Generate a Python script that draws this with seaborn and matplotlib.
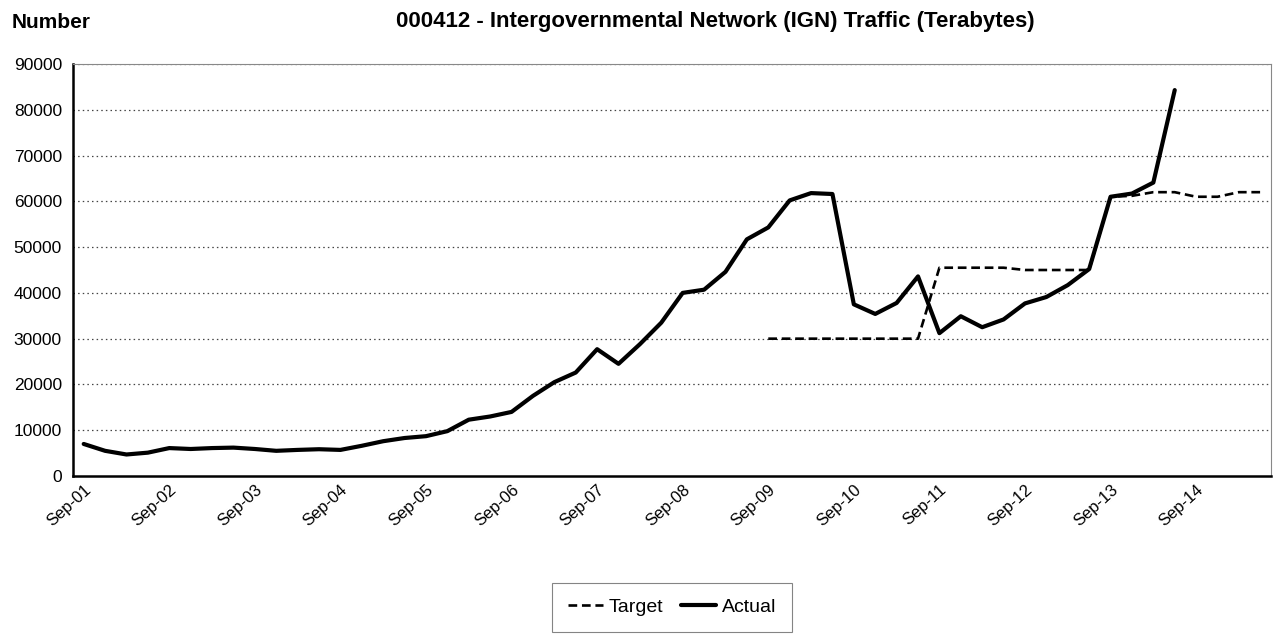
import numpy as np
import pandas as pd
import matplotlib
matplotlib.use("Agg")
import matplotlib.pyplot as plt
import seaborn as sns

# ---- data ----
months = ["Sep", "Dec", "Mar", "Jun"]
quarters = []
for k in range(56):
    m = months[k % 4]
    yr = 1 + (k + 1) // 4 if m != "Sep" else 1 + k // 4
    quarters.append(f"{m}-{yr:02d}")

actual = [7000, 5500, 4700, 5100, 6100, 5900, 6100, 6200, 5900, 5500,
          5700, 5850, 5700, 6600, 7600, 8300, 8700, 9800, 12300, 13000,
          14000, 17500, 20500, 22600, 27700, 24500, 28800, 33500, 40000, 40700,
          44600, 51700, 54300, 60200, 61800, 61600, 37500, 35400, 37800, 43600,
          31200, 34900, 32500, 34200, 37700, 39100, 41700, 45200, 61000, 61700,
          64100, 84300]

target = [np.nan] * 32 + [30000] * 8 + [45500] * 4 + [45000] * 4 + \
         [61000, 61200, 62000, 62000, 61000, 61000, 62000, 62000]

tick_labels = ["Sep-01", "Sep-02", "Sep-03", "Sep-04", "Sep-05", "Sep-06", "Sep-07",
               "Sep-08", "Sep-09", "Sep-10", "Sep-11", "Sep-12", "Sep-13", "Sep-14"]

df_a = pd.DataFrame({"q": quarters[:len(actual)], "pos": range(len(actual)), "value": actual})
df_t = pd.DataFrame({"q": quarters, "pos": range(len(target)), "value": target}).dropna()

# ---- style ----
sns.set_style("white")
plt.rcParams["font.family"] = ["Liberation Sans", "DejaVu Sans"]
plt.rcParams["text.color"] = "black"
plt.rcParams["xtick.color"] = "black"
plt.rcParams["ytick.color"] = "black"
plt.rcParams["xtick.labelcolor"] = "black"
plt.rcParams["ytick.labelcolor"] = "black"

fig = plt.figure(figsize=(12.8, 6.35), dpi=100)
ax = fig.add_axes([73 / 1280, 1 - 476 / 635, (1271 - 73) / 1280, (476 - 64) / 635])

sns.lineplot(data=df_t, x="pos", y="value", ax=ax, color="black", linewidth=1.9,
             label="Target", estimator=None)
sns.lineplot(data=df_a, x="pos", y="value", ax=ax, color="black", linewidth=3.0,
             label="Actual", estimator=None)
ax.lines[0].set_dashes([3.3, 1.8])

ax.set_xlim(-0.5, 55.5)
ax.set_ylim(0, 90000)
ax.set_yticks(np.arange(0, 90001, 10000))
ax.set_yticklabels([str(v) for v in range(0, 90001, 10000)], fontsize=12.5)
sep_pos = [i for i, q in enumerate(quarters) if q in tick_labels]
ax.set_xticks(sep_pos)
ax.set_xticklabels(tick_labels, fontsize=12, rotation=42, ha="right",
                   rotation_mode="anchor")
ax.tick_params(axis="y", length=0, pad=8, labelcolor="black")
ax.tick_params(axis="x", length=0, pad=4, labelcolor="black")
ax.set_xlabel("")
ax.set_ylabel("")

for v in range(10000, 90001, 10000):
    ax.axhline(v, color="#444444", linestyle=(0, (1.2, 2.5)), linewidth=0.9, zorder=0)

for s in ["left", "bottom"]:
    ax.spines[s].set_color("black")
    ax.spines[s].set_linewidth(1.8)
ax.spines["right"].set_color("#888888")
ax.spines["right"].set_linewidth(0.8)
ax.spines["top"].set_color("#888888")
ax.spines["top"].set_linewidth(0.8)

fig.text(12 / 1280, 1 - 22 / 635, "Number", fontsize=15, fontweight="bold",
         va="center", ha="left", color="black")
fig.text(715 / 1280, 1 - 22 / 635,
         "000412 - Intergovernmental Network (IGN) Traffic (Terabytes)",
         fontsize=16, fontweight="bold", va="center", ha="center", color="black")

ax.legend_.remove()
handles, labels = ax.get_legend_handles_labels()
leg = fig.legend(handles, labels, loc="upper center",
                 bbox_to_anchor=(672 / 1280, 1 - 583 / 635), ncol=2, fontsize=14,
                 frameon=True, fancybox=False, handlelength=1.8, handletextpad=0.3,
                 columnspacing=0.9, borderpad=0.8, borderaxespad=0, labelcolor="black")
leg.get_frame().set_edgecolor("#666666")
leg.get_frame().set_linewidth(0.8)

fig.savefig("out.png", dpi=100)
